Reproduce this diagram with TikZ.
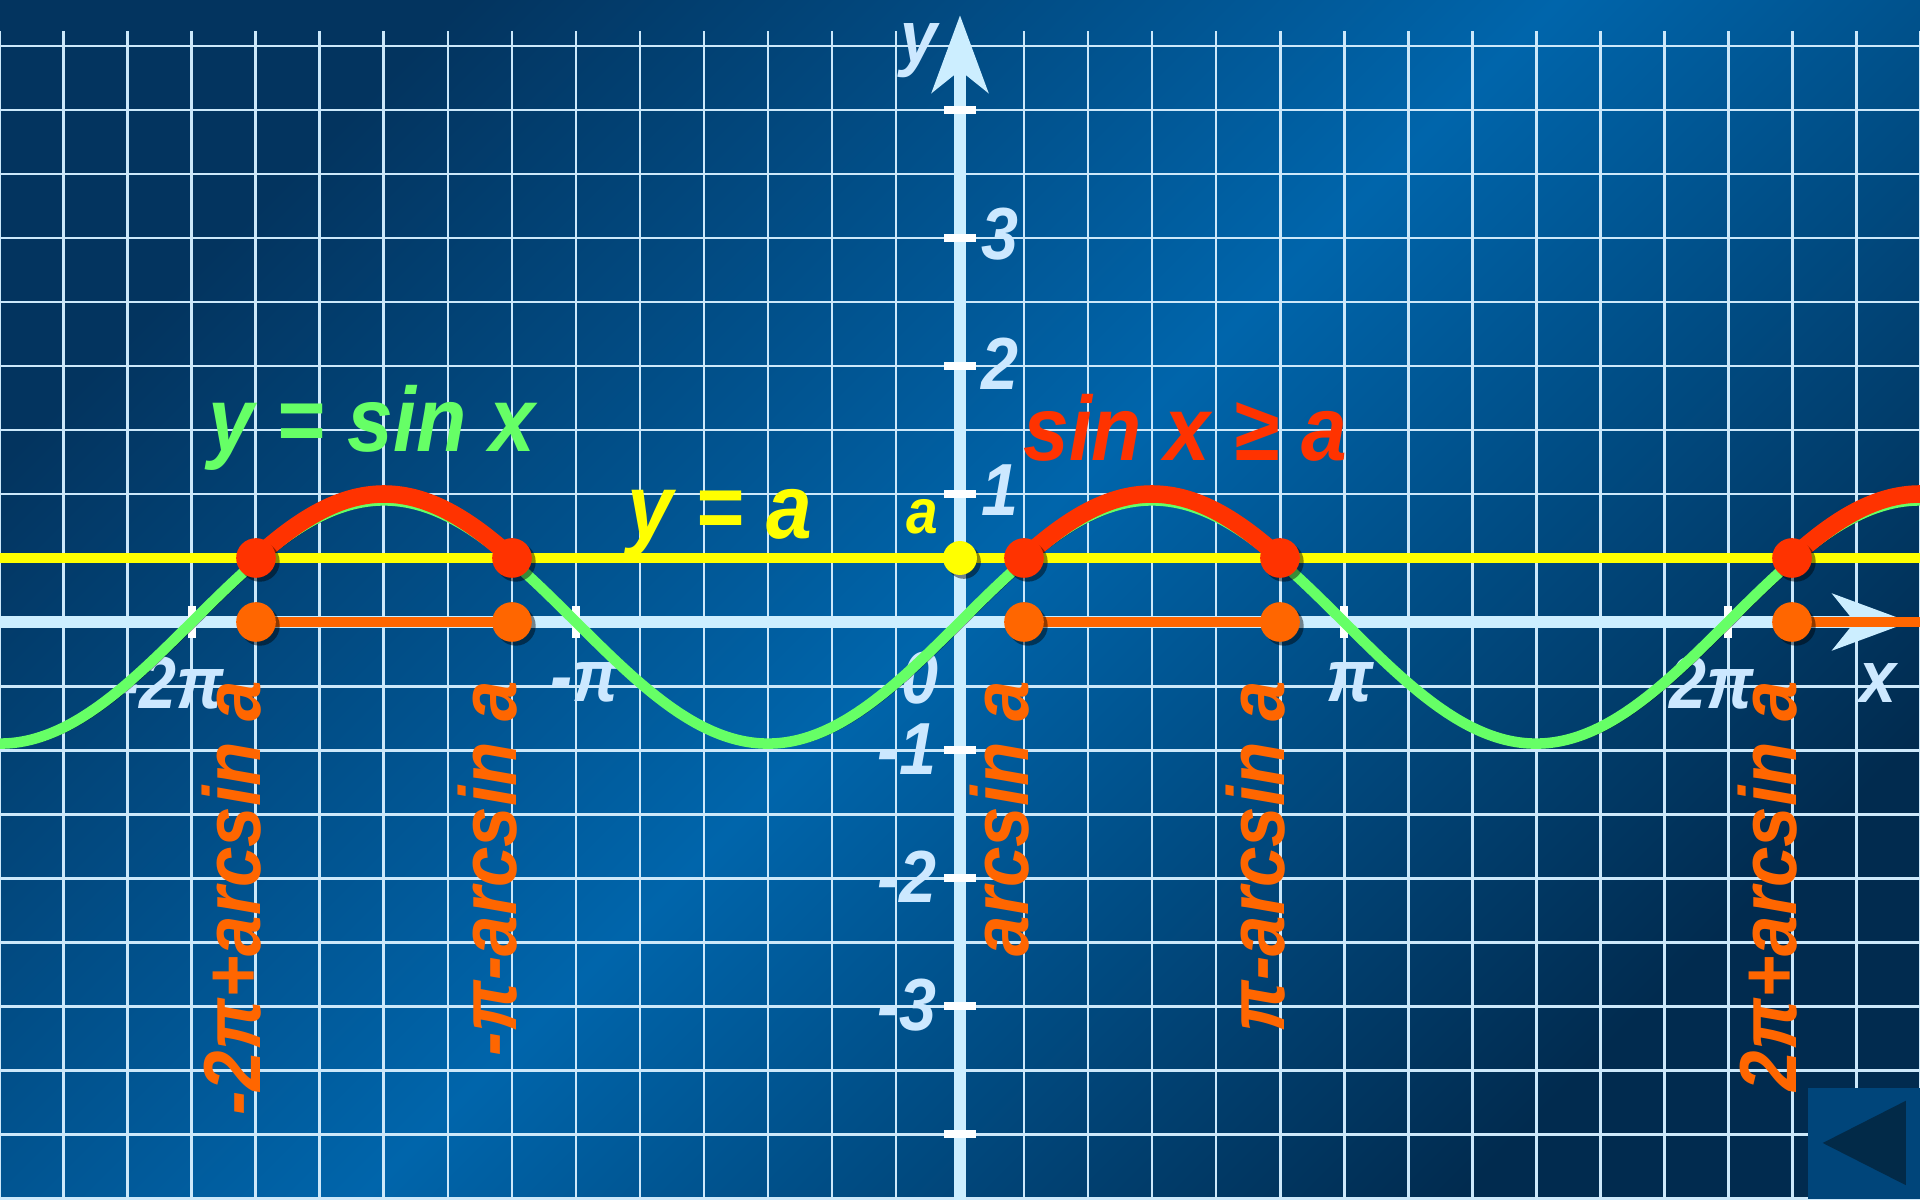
\documentclass[tikz,border=0pt]{standalone}
\usepackage{fontspec}
\setmainfont{Liberation Sans}
\newfontfamily\plotfont[FakeStretch=0.9]{Liberation Sans}
\usepackage{tikz}
\usetikzlibrary{arrows.meta,calc,positioning}

\definecolor{bgdark}{HTML}{03345F}
\definecolor{bgdeep}{HTML}{012B4F}
\definecolor{bgmid}{HTML}{0065AB}
\definecolor{gridc}{HTML}{CCE8FA}
\definecolor{axisc}{HTML}{CCEEFF}
\definecolor{labc}{HTML}{CCE8FF}
\definecolor{sinc}{HTML}{66FF66}
\definecolor{solc}{HTML}{FF3300}
\definecolor{segc}{HTML}{FF6600}
\definecolor{linec}{HTML}{FFFF00}
\definecolor{btnc}{HTML}{00457A}
\definecolor{btntri}{HTML}{022A48}

\begin{document}
\begin{tikzpicture}[x=1.28cm,y=1.28cm,
  gridline/.style={draw=gridc,line width=1.7pt},
  axisline/.style={draw=axisc,line width=6.8pt,
                   -{Stealth[length=1.54cm,width=1.12cm,inset=0.44cm]}},
  tickmark/.style={draw=white,line width=4.5pt},
  lshadow/.style={preaction={draw=black,draw opacity=.45,
                  transform canvas={xshift=2.2pt,yshift=-2.2pt}}},
  dshadow/.style={preaction={fill=black,fill opacity=.45,
                  transform canvas={xshift=2.2pt,yshift=-2.2pt}}},
  sinline/.style={draw=sinc,line width=6pt,lshadow},
  solline/.style={draw=solc,line width=10pt,line cap=round,lshadow},
  aline/.style={draw=linec,line width=6.2pt,lshadow},
  segline/.style={draw=segc,line width=6.2pt,lshadow},
  ticklab/.style={text=labc,inner sep=0,
                  font=\plotfont\bfseries\itshape\fontsize{42}{42}\selectfont},
  bigtext/.style={inner sep=0,anchor=base,
                  font=\plotfont\bfseries\itshape\fontsize{52}{52}\selectfont},
  rootlab/.style={text=segc,inner sep=0,rotate=90,anchor=mid east,
                  font=\plotfont\bfseries\itshape\fontsize{46}{46}\selectfont},
]
\useasboundingbox (-15,-9.015625) rectangle (15,9.71875);
\clip (-15,-9.015625) rectangle (15,9.71875);

% background
\shade[top color=bgdark,bottom color=bgdeep,middle color=bgmid,shading angle=45]
  (-15,-9.015625) rectangle (15,9.71875);

% grid
\foreach \i in {-15,...,15}
  \draw[gridline] (\i,-9.1) -- (\i,9.234);
\foreach \j in {-9,...,9}
  \draw[gridline] (-15,\j) -- (15,\j);

% axes
\coordinate (xL) at (-15,0);
\coordinate (xR) at (14.84,0);
\coordinate (yB) at (0,-9.1);
\coordinate (yT) at (0,9.48);
\draw[axisline] (xL) -- (xR);
\draw[axisline] (yB) -- (yT);
\foreach \k in {-8,-6,-4,-2,2,4,6,8}
  \draw[tickmark] (-0.25,\k) -- (0.25,\k);
\foreach \k in {-12,-6,6,12}
  \draw[tickmark] (\k,-0.25) -- (\k,0.25);

% tick labels
\node[ticklab,anchor=west] (ly1) at (0.33,2.06) {1};
\node[ticklab,anchor=west] (ly2) at (0.33,4.04) {2};
\node[ticklab,anchor=west] (ly3) at (0.33,6.06) {3};
\node[ticklab,anchor=east] (lym1) at (-0.36,-1.98) {-1};
\node[ticklab,anchor=east] (lym2) at (-0.36,-3.98) {-2};
\node[ticklab,anchor=east] (lym3) at (-0.36,-5.98) {-3};
\node[ticklab] (lx0) at (-0.62,-0.88) {0};
\node[ticklab] (lxm2) at (-12.33,-0.95) {-2π};
\node[ticklab] (lxm1) at (-5.86,-0.95) {-π};
\node[ticklab] (lx1) at (6.1,-0.95) {π};
\node[ticklab] (lx2) at (11.75,-0.95) {2π};
\node[ticklab] (lxx) at (14.34,-0.95) {x};
\node[ticklab] (lyy) at (-0.64,8.92) {y};

% y = sin x
\draw[sinline] plot[domain=-15:15,samples=241,smooth] (\x,{1.9*sin(30*\x)});

% y = a
\coordinate (aL) at (-15,1);
\coordinate (aR) at (15,1);
\draw[aline] (aL) -- (aR);

% solution arcs
\draw[solline] plot[domain=-11:-7,samples=41,smooth] (\x,{2*sin(30*\x)});
\draw[solline] plot[domain=1:5,samples=41,smooth] (\x,{2*sin(30*\x)});
\draw[solline] plot[domain=13:15.2,samples=25,smooth] (\x,{2*sin(30*\x)});

% roots and solution set on the x axis
\foreach \x [count=\i] in {-11,-7,1,5,13} {
  \coordinate (r\i) at (\x,1);
  \coordinate (s\i) at (\x,0);
}
\coordinate (sEnd) at (15.2,0);
\draw[segline] (s1) -- (s2);
\draw[segline] (s3) -- (s4);
\draw[segline] (s5) -- (sEnd);
\foreach \i in {1,...,5} {
  \fill[solc,dshadow] (r\i) circle (0.31);
  \fill[segc,dshadow] (s\i) circle (0.31);
}
\coordinate (a0) at (0,1);
\fill[linec,dshadow] (a0) circle (0.265);

% titles
\node[bigtext,text=sinc] (tsin) at (-9.19,2.66) {y = sin x};
\node[bigtext,text=solc] (tineq) at (3.52,2.53) {sin x ≥ a};
\node[bigtext,text=linec] (tya) at (-3.75,1.31) {y = a};
\node[bigtext,text=linec,font=\plotfont\bfseries\itshape\fontsize{36}{36}\selectfont]
  (ta) at (-0.59,1.39) {a};

% root labels
\node[rootlab] (l1) at (-11,-0.92) {-2π+arcsin a};
\node[rootlab] (l2) at (-7,-0.92) {-π-arcsin a};
\node[rootlab] (l3) at (1,-0.92) {arcsin a};
\node[rootlab] (l4) at (5,-0.92) {π-arcsin a};
\node[rootlab] (l5) at (13,-0.92) {2π+arcsin a};

% back button
\fill[btnc] (13.25,-7.28) rectangle (15,-9.015625);
\fill[btntri] (13.48,-8.14) -- (14.78,-7.48) -- (14.78,-8.80) -- cycle;
\end{tikzpicture}
\end{document}
